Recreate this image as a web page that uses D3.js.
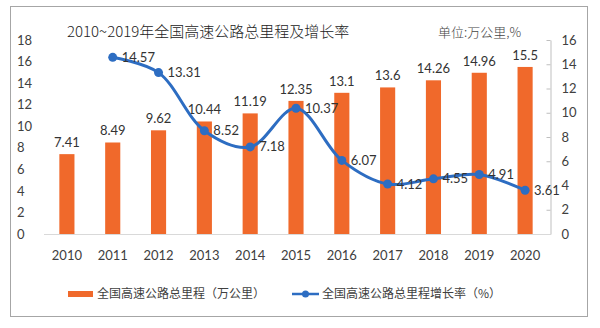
<!DOCTYPE html>
<html><head><meta charset="utf-8">
<script src="https://cdn.jsdelivr.net/npm/d3@7"></script>
<style>body{margin:0;background:#fff}svg{display:block}</style>
</head><body>
<svg id="c" width="600" height="328"></svg>
<script>
const years = ["2010","2011","2012","2013","2014","2015","2016","2017","2018","2019","2020"];
const mileage = [7.41, 8.49, 9.62, 10.44, 11.19, 12.35, 13.1, 13.6, 14.26, 14.96, 15.5];
const growth = [null, 14.57, 13.31, 8.52, 7.18, 10.37, 6.07, 4.12, 4.55, 4.91, 3.61];
const leftTicks = [0,2,4,6,8,10,12,14,16,18];
const rightTicks = [0,2,4,6,8,10,12,14,16];
const title = "2010~2019年全国高速公路总里程及增长率";
const unit = "单位:万公里,%";
const legendNames = ["全国高速公路总里程（万公里）", "全国高速公路总里程增长率（%）"];

const svg = d3.select("#c");
const numFont = "Lato, 'Liberation Sans', sans-serif";
const cjkFont = "'Noto Sans CJK SC', sans-serif";
const orange = "#F0692B", blue = "#2D6DC2";

// frame
svg.append("rect").attr("x",10.5).attr("y",6.5).attr("width",577).attr("height",310)
  .attr("fill","none").attr("stroke","#a6a6a6").attr("stroke-width",1);

const x = d3.scaleBand().domain(years).range([44,548]).paddingInner(0.67).paddingOuter(0.335);
const yL = d3.scaleLinear().domain([0,18]).range([234,40]);
const yR = d3.scaleLinear().domain([0,16]).range([234,40]);

// left axis labels
const gl = svg.append("g").attr("transform","translate(17,0)")
  .call(d3.axisLeft(yL).tickValues(leftTicks).tickSize(0).tickPadding(0));
gl.select(".domain").remove();
gl.selectAll("text").attr("text-anchor","start").attr("x",0)
  .style("font-family",numFont).style("font-size","13px").attr("fill","#404040");

// right axis
const gr = svg.append("g").attr("transform","translate(550.5,0)")
  .call(d3.axisRight(yR).tickValues(rightTicks).tickSizeInner(-4).tickSizeOuter(0).tickPadding(11));
gr.select(".domain").attr("stroke","#bfbfbf");
gr.selectAll(".tick line").attr("stroke","#bfbfbf");
gr.selectAll("text").style("font-family",numFont).style("font-size","13px").attr("fill","#404040");

// baseline
svg.append("line").attr("x1",44).attr("x2",550).attr("y1",234.5).attr("y2",234.5)
  .attr("stroke","#d9d9d9");

// x labels
const gx = svg.append("g").attr("transform","translate(0,234)")
  .call(d3.axisBottom(x).tickSize(0).tickPadding(17));
gx.select(".domain").remove();
gx.selectAll("text").style("font-family",numFont).style("font-size","13px").attr("fill","#404040");

// bars
svg.append("g").selectAll("rect").data(mileage).join("rect")
  .attr("x",(d,i)=>x(years[i])).attr("width",x.bandwidth())
  .attr("y",d=>yL(d)).attr("height",d=>yL(0)-yL(d)).attr("fill",orange);
svg.append("g").selectAll("text").data(mileage).join("text")
  .attr("x",(d,i)=>x(years[i])+x.bandwidth()/2).attr("y",d=>yL(d)-7)
  .attr("text-anchor","middle").style("font-family",numFont).style("font-size","13px")
  .attr("fill","#333").text(d=>d);

// line
const pts = growth.map((v,i)=>({v,i})).filter(d=>d.v!=null);
const cx = d=>x(years[d.i])+x.bandwidth()/2;
const line = d3.line().x(cx).y(d=>yR(d.v)).curve(d3.curveCatmullRom.alpha(0.5));
svg.append("path").datum(pts).attr("d",line).attr("fill","none")
  .attr("stroke",blue).attr("stroke-width",3);
svg.append("g").selectAll("circle").data(pts).join("circle")
  .attr("cx",cx).attr("cy",d=>yR(d.v)).attr("r",4.5).attr("fill",blue);
svg.append("g").selectAll("text").data(pts).join("text")
  .attr("x",d=>cx(d)+9).attr("y",d=>yR(d.v)).attr("dy","0.35em")
  .style("font-family",numFont).style("font-size","13px").attr("fill","#333").text(d=>d.v);

// title & unit
svg.append("text").attr("x",67).attr("y",37).text(title)
  .style("font-family",cjkFont).style("font-size","15px").style("font-weight","300").attr("fill","#222");
svg.append("text").attr("x",438).attr("y",37).text(unit)
  .style("font-family",cjkFont).style("font-size","13px").style("font-weight","300").attr("fill","#444");

// legend
const lg = svg.append("g");
lg.append("rect").attr("x",68).attr("y",291).attr("width",25).attr("height",6).attr("fill",orange);
lg.append("text").attr("x",97).attr("y",294).attr("dy","0.35em").text(legendNames[0])
  .style("font-family",cjkFont).style("font-size","12px").attr("fill","#404040");
lg.append("line").attr("x1",292).attr("x2",319).attr("y1",294).attr("y2",294)
  .attr("stroke",blue).attr("stroke-width",2.5);
lg.append("circle").attr("cx",305.5).attr("cy",294).attr("r",3.5).attr("fill",blue);
lg.append("text").attr("x",322).attr("y",294).attr("dy","0.35em").text(legendNames[1])
  .style("font-family",cjkFont).style("font-size","12px").attr("fill","#404040");
</script>
</body></html>
